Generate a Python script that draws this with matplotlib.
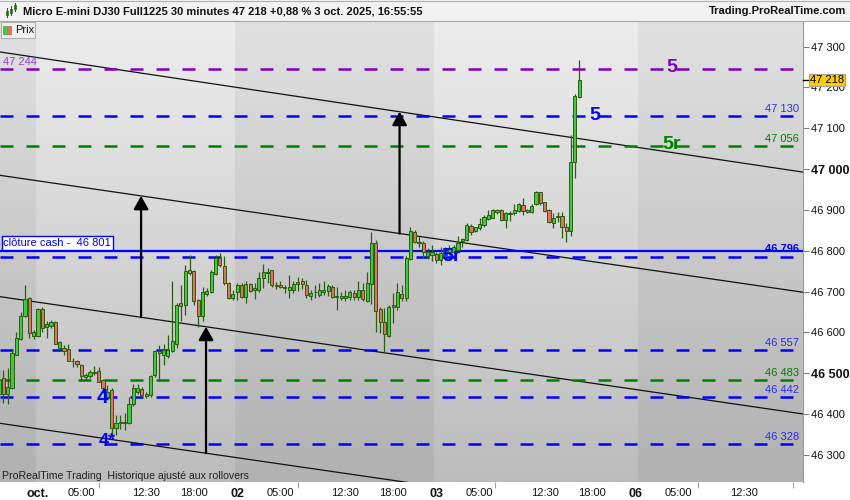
import numpy as np
import matplotlib
matplotlib.use("Agg")
import matplotlib.pyplot as plt
from matplotlib.patches import Rectangle
from matplotlib.colors import LinearSegmentedColormap
from matplotlib.transforms import blended_transform_factory

plt.rcParams['font.family'] = ['Liberation Sans', 'DejaVu Sans']

# 30 minute bars, bar 0 = 1 oct. 00:00, 46 bars per day
first_bar = -9
opens = [46450, 46489, 46449, 46463, 46546, 46583, 46640, 46684, 46592,
         46592, 46658, 46613, 46617, 46625, 46563, 46561, 46559, 46529, 46530,
         46520, 46492, 46494, 46500, 46506, 46483, 46443, 46459, 46367, 46379,
         46379, 46378, 46424, 46455, 46462, 46449, 46447, 46496, 46549, 46546,
         46543, 46555, 46572, 46671, 46667, 46753, 46751, 46680, 46641, 46694,
         46698, 46742, 46783, 46763, 46720, 46684, 46698, 46716, 46688, 46718,
         46703, 46703, 46733, 46745, 46752, 46714, 46715, 46708, 46704, 46703,
         46718, 46725, 46716, 46689, 46698, 46692, 46704, 46702, 46712, 46686,
         46685, 46685, 46688, 46696, 46688, 46704, 46677, 46718, 46818, 46658,
         46625, 46591, 46662, 46663, 46693, 46685, 46780, 46847, 46818, 46818,
         46786, 46790, 46792, 46778, 46790, 46798, 46798, 46802, 46823, 46827,
         46861, 46849, 46855, 46862, 46878, 46881, 46896, 46900, 46876, 46889,
         46892, 46898, 46912, 46896, 46894, 46914, 46943, 46919, 46900, 46867,
         46882, 46884, 46858, 46849, 47017, 47176]
highs = [46508, 46508, 46512, 46557, 46600, 46651, 46716, 46688, 46606,
         46659, 46663, 46628, 46631, 46628, 46578, 46569, 46571, 46537, 46532,
         46522, 46500, 46508, 46518, 46516, 46486, 46471, 46463, 46398, 46398,
         46402, 46443, 46473, 46473, 46467, 46455, 46496, 46557, 46569, 46573,
         46594, 46725, 46671, 46716, 46765, 46790, 46753, 46682, 46712, 46708,
         46753, 46790, 46794, 46786, 46723, 46704, 46720, 46720, 46725, 46720,
         46720, 46749, 46767, 46759, 46754, 46723, 46725, 46716, 46741, 46725,
         46737, 46734, 46729, 46704, 46716, 46720, 46725, 46718, 46716, 46712,
         46700, 46704, 46704, 46704, 46725, 46720, 46749, 46845, 46827, 46663,
         46659, 46667, 46696, 46720, 46716, 46786, 46859, 46851, 46835, 46823,
         46806, 46814, 46798, 46810, 46810, 46813, 46814, 46835, 46831, 46867,
         46865, 46859, 46880, 46888, 46900, 46902, 46903, 46903, 46896, 46898,
         46914, 46916, 46929, 46903, 46914, 46947, 46945, 46920, 46903, 46892,
         46896, 46896, 46867, 47084, 47183, 47267]
lows = [46430, 46427, 46424, 46462, 46545, 46581, 46639, 46586, 46584,
        46590, 46600, 46586, 46610, 46571, 46557, 46545, 46529, 46516, 46515,
        46482, 46482, 46488, 46496, 46478, 46451, 46439, 46342, 46349, 46364,
        46361, 46375, 46421, 46449, 46443, 46439, 46443, 46492, 46481, 46520,
        46537, 46553, 46561, 46628, 46643, 46741, 46667, 46614, 46627, 46690,
        46696, 46741, 46761, 46716, 46682, 46680, 46680, 46684, 46671, 46700,
        46682, 46700, 46710, 46720, 46712, 46707, 46708, 46696, 46684, 46696,
        46702, 46707, 46684, 46680, 46684, 46688, 46692, 46690, 46685, 46655,
        46680, 46676, 46680, 46680, 46680, 46676, 46674, 46669, 46602, 46598,
        46549, 46590, 46622, 46655, 46677, 46676, 46778, 46818, 46810, 46782,
        46780, 46774, 46769, 46765, 46778, 46790, 46794, 46798, 46810, 46823,
        46839, 46847, 46851, 46859, 46876, 46880, 46889, 46874, 46855, 46874,
        46888, 46896, 46888, 46892, 46892, 46911, 46912, 46896, 46867, 46855,
        46871, 46831, 46822, 46835, 46979, 47174]
closes = [46484, 46449, 46466, 46549, 46586, 46640, 46681, 46598, 46600,
          46658, 46610, 46621, 46625, 46572, 46576, 46555, 46531, 46531, 46522,
          46494, 46496, 46504, 46504, 46480, 46463, 46455, 46365, 46378, 46382,
          46382, 46424, 46463, 46463, 46447, 46445, 46494, 46555, 46555, 46557,
          46557, 46578, 46667, 46666, 46750, 46746, 46677, 46641, 46698, 46702,
          46749, 46783, 46764, 46720, 46684, 46694, 46716, 46688, 46718, 46702,
          46710, 46733, 46747, 46747, 46715, 46716, 46712, 46712, 46712, 46718,
          46723, 46718, 46692, 46696, 46700, 46703, 46700, 46714, 46688, 46690,
          46689, 46690, 46700, 46687, 46704, 46682, 46720, 46818, 46653, 46625,
          46596, 46663, 46667, 46698, 46685, 46782, 46849, 46822, 46821, 46798,
          46798, 46798, 46778, 46794, 46808, 46808, 46810, 46820, 46828, 46863,
          46847, 46857, 46865, 46882, 46888, 46900, 46900, 46876, 46892, 46892,
          46900, 46915, 46898, 46899, 46910, 46943, 46918, 46898, 46870, 46880,
          46884, 46858, 46849, 47017, 47178, 47218]

# horizontal levels
levels = [47244, 47130, 47056, 46785, 46557, 46483, 46442, 46328]
level_colors = ['#8000c0', '#0000ff', '#008000', '#0000ff', '#0000ff',
                '#008000', '#0000ff', '#0000ff']
right_labels = {47130: '47 130', 47056: '47 056', 46557: '46 557',
                46483: '46 483', 46442: '46 442', 46328: '46 328'}
cash_close = 46801
last_price = 47218

# channel lines, prices at bar -9 and bar 177
chan_x = [-9, 177]
chan_a = [47287, 46992]
chan_b = [46985, 46698]
chan_c = [46688, 46400]
chan_d = [46378, 46092]

# arrows: bar, lower line, upper line
arrows = [(23.8, chan_c, chan_b), (38.8, chan_d, chan_c), (83.5, chan_b, chan_a)]

# wave labels: text, bar, price, color, size
waves = [('4', 14.8, 46442, '#0000ff', 15), ('4*', 15.9, 46332, '#0000ff', 13),
         ('5r', 95.6, 46787, '#0000ff', 14), ('5', 128.6, 47130, '#0000ff', 14),
         ('5', 146.4, 47248, '#8000c0', 14), ('5r', 146.4, 47059, '#008000', 14)]

x_labels = ['oct.', '05:00', '12:30', '18:00', '02', '05:00', '12:30', '18:00',
            '03', '05:00', '12:30', '18:00', '06', '05:00', '12:30']
x_label_pos = [0, 10, 25, 36, 46, 56, 71, 82, 92, 102, 117, 128, 138, 148, 163]
x_minor = [0, 14, 46, 60, 92, 105.5, 138, 152.4, 174.4]

W, H = 850, 500
def fx(px):
    return px / W
def fy(py):
    return 1 - py / H

fig = plt.figure(figsize=(8.5, 5), dpi=100, facecolor='white')
ax = fig.add_axes([0, fy(482), fx(803), (482 - 22) / H])

xmin, xmax = -8.78, 176.67
ymin, ymax = 46234, 47360

# background: day bands with vertical gradient
grad = np.linspace(0, 1, 256).reshape(-1, 1)
light = LinearSegmentedColormap.from_list('light', ['#ededed', '#bcbcbc'])
dark = LinearSegmentedColormap.from_list('dark', ['#e1e1e1', '#b1b1b1'])
bands = [(xmin, -0.5, dark), (-0.5, 45.5, light), (45.5, 91.5, dark),
         (91.5, 138.5, light), (138.5, xmax, dark)]
for x0, x1, cm in bands:
    ax.imshow(grad, extent=(x0, x1, ymin, ymax), origin='upper', cmap=cm,
              aspect='auto', zorder=0, interpolation='bilinear')

# channel lines
for ch in [chan_a, chan_b, chan_c, chan_d]:
    ax.plot(chan_x, ch, color='#111111', lw=0.9, zorder=2)

# levels
for lv, col in zip(levels, level_colors):
    ax.axhline(lv, color=col, lw=1.8, dashes=(5.2, 5.2), zorder=3)
ax.axhline(46799, color='#0000ff', lw=1.6, zorder=3)

# candles
bars = np.arange(first_bar, first_bar + len(opens))
o = np.array(opens); h = np.array(highs); l = np.array(lows); c = np.array(closes)
up = c >= o
edge = '#2a5e10'
ax.vlines(bars, l, h, color=edge, lw=0.9, zorder=4)
body_low = np.minimum(o, c)
body_h = np.maximum(np.abs(c - o), 2)
ax.bar(bars[up], body_h[up], bottom=body_low[up], width=0.72,
       color='#3fc93f', edgecolor=edge, lw=0.7, zorder=5)
ax.bar(bars[~up], body_h[~up], bottom=body_low[~up], width=0.72,
       color='#e2705e', edgecolor=edge, lw=0.7, zorder=5)

# arrows between channel lines
for bx, lower, upper in arrows:
    y0 = np.interp(bx, chan_x, lower)
    y1 = np.interp(bx, chan_x, upper)
    ax.annotate('', xy=(bx, y1), xytext=(bx, y0),
                arrowprops=dict(arrowstyle='-|>,head_length=0.8,head_width=0.45',
                                mutation_scale=10, color='black', lw=1.6,
                                shrinkA=0, shrinkB=0), zorder=6)

# wave labels
for s, bx, py, col, fs in waves:
    ax.text(bx, py, s, color=col, fontsize=fs, fontweight='bold',
            ha='center', va='center', zorder=7)

# level labels
trans_r = blended_transform_factory(ax.transAxes, ax.transData)
for lv, txt in right_labels.items():
    col = '#008000' if lv in (47056, 46483) else '#2b2bff'
    ax.annotate(txt, xy=(1, lv), xycoords=trans_r, xytext=(-3, 5),
                textcoords='offset points', ha='right', va='center',
                fontsize=8, color=col, zorder=7)
ax.annotate('46 796', xy=(1, 46796), xycoords=trans_r, xytext=(-3, 2.5),
            textcoords='offset points', ha='right', va='center',
            fontsize=8, fontweight='bold', color='#0000ff', zorder=7)
ax.annotate('47 244', xy=(0, 47244), xycoords=trans_r, xytext=(2, 5),
            textcoords='offset points', ha='left', va='center',
            fontsize=8, color='#9040d0', zorder=7)
ax.annotate('clôture cash -  46 801', xy=(0, cash_close), xycoords=trans_r,
            xytext=(2.5, 1.6), textcoords='offset points', ha='left',
            va='bottom', fontsize=8, color='#0000ff', zorder=8,
            bbox=dict(boxstyle='square,pad=0.15', fc='white', ec='#0000ff', lw=1))

# last price box
ax.annotate('47 218', xy=(1, last_price), xycoords=trans_r, xytext=(5, 0),
            textcoords='offset points', ha='left', va='center', fontsize=8,
            color='black', zorder=20, annotation_clip=False,
            bbox=dict(boxstyle='square,pad=0.1', fc='#ffcc00', ec='#a0a0a0', lw=0.8))
ax.plot([1, 1.006], [last_price, last_price], transform=trans_r, color='black',
        lw=1, clip_on=False, zorder=20)

ax.text(0.003, (482 - 476) / 460, 'ProRealTime Trading  Historique ajusté aux rollovers',
        transform=ax.transAxes, fontsize=7.6, color='#222222', ha='left',
        va='center', zorder=8)

ax.set_xlim(xmin, xmax)
ax.set_ylim(ymin, ymax)

# axes
ax.yaxis.tick_right()
yt = list(range(46300, 47301, 100))
ax.set_yticks(yt)
ax.set_yticklabels([f'{v:,}'.replace(',', ' ') for v in yt])
ax.tick_params(axis='y', length=4, width=0.8, color='#808080', labelsize=8,
               pad=2, labelcolor='#111111')
for lab, v in zip(ax.get_yticklabels(), yt):
    if v in (47000, 46500):
        lab.set_fontweight('bold')
        lab.set_fontsize(9)
ax.set_xticks(x_label_pos)
ax.set_xticklabels(x_labels)
ax.tick_params(axis='x', length=0, labelsize=8, pad=4, labelcolor='#111111')
for lab in ax.get_xticklabels():
    if lab.get_text() in ('oct.', '02', '03', '06'):
        lab.set_fontweight('bold')
        lab.set_fontsize(9)
ax.set_xticks(x_minor, minor=True)
ax.tick_params(axis='x', which='minor', length=4, color='#a0a0a0', width=0.8)
for side in ['top', 'left', 'bottom']:
    ax.spines[side].set_visible(False)
ax.spines['right'].set_color('#9a9a9a')

# header
fig.patches.append(Rectangle((0, fy(21)), 1, 21 / H, transform=fig.transFigure,
                             facecolor='#f2f2f2', edgecolor='none', zorder=0))
fig.lines.append(plt.Line2D([0, 1], [fy(21), fy(21)], transform=fig.transFigure,
                            color='#a8a8a8', lw=0.8))
fig.lines.append(plt.Line2D([0, 1], [fy(0.5), fy(0.5)], transform=fig.transFigure,
                            color='#b0b0b0', lw=0.8))
for px, y0, y1, b0, b1 in [(7, 17, 8, 15, 11), (11, 15, 6, 13, 9), (15, 11, 3, 9, 5)]:
    fig.lines.append(plt.Line2D([fx(px), fx(px)], [fy(y0), fy(y1)],
                                transform=fig.transFigure, color='#2a6010', lw=0.8))
    fig.patches.append(Rectangle((fx(px - 1.3), fy(b0)), 2.6 / W, (b0 - b1) / H,
                                 transform=fig.transFigure, facecolor='#3fc93f',
                                 edgecolor='#2a6010', lw=0.5))
fig.text(fx(23), fy(11), 'Micro E-mini DJ30 Full1225 30 minutes 47 218 +0,88 % 3 oct. 2025, 16:55:55',
         fontsize=8, fontweight='bold', va='center', ha='left', color='#111111')
fig.text(fx(846), fy(11), 'Trading.ProRealTime.com', fontsize=8,
         fontweight='bold', va='center', ha='right', color='#111111')

# "Prix" legend box
fig.patches.append(Rectangle((fx(1), fy(38)), 34 / W, 16 / H, transform=fig.transFigure,
                             facecolor='#f0f0f0', edgecolor='#b0b0b0', lw=0.8, zorder=5))
fig.patches.append(Rectangle((fx(3), fy(35)), 4 / W, 9 / H, transform=fig.transFigure,
                             facecolor='#3fc93f', edgecolor='none', zorder=6))
fig.patches.append(Rectangle((fx(7), fy(35)), 5 / W, 9 / H, transform=fig.transFigure,
                             facecolor='#e2705e', edgecolor='none', zorder=6))
fig.text(fx(15), fy(30), 'Prix', fontsize=8, va='center', ha='left', color='#111111',
         zorder=7)

fig.savefig('out.png', dpi=100, facecolor='white')
